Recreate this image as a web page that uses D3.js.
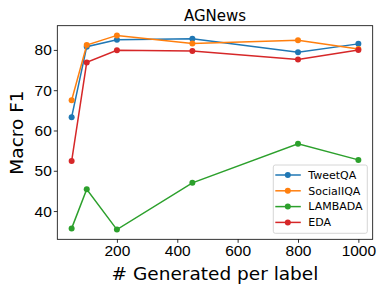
<!DOCTYPE html>
<html>
<head>
<meta charset="utf-8">
<script src="https://cdn.jsdelivr.net/npm/d3@7"></script>
<style>
  body { margin: 0; background: #fff; }
  svg { font-family: "DejaVu Sans", sans-serif; }
</style>
</head>
<body>
<svg id="chart" width="390" height="293"></svg>
<script>
// data
const generated = [50, 100, 200, 450, 800, 1000];
const tweetQA = [63.3, 80.8, 82.5, 82.8, 79.4, 81.5];
const socialIQA = [67.5, 81.2, 83.6, 81.6, 82.4, 80.2];
const lambada = [35.7, 45.4, 35.4, 47.0, 56.7, 52.7];
const eda = [52.4, 76.9, 79.9, 79.7, 77.6, 80.0];
const seriesNames = ['TweetQA', 'SocialIQA', 'LAMBADA', 'EDA'];
const seriesColors = ['#1f77b4', '#ff7f0e', '#2ca02c', '#d62728'];
const xTicks = [200, 400, 600, 800, 1000];
const yTicks = [40, 50, 60, 70, 80];

const series = [tweetQA, socialIQA, lambada, eda];

const margin = { left: 57.3, right: 372.7, top: 25.7, bottom: 239.3 };
const svg = d3.select('#chart');

// matplotlib-style 5% padding on both axes
const xMin = d3.min(generated), xMax = d3.max(generated);
const xPad = (xMax - xMin) * 0.05;
const x = d3.scaleLinear()
  .domain([xMin - xPad, xMax + xPad])
  .range([margin.left, margin.right]);

const allY = series.flat();
const yMin = d3.min(allY), yMax = d3.max(allY);
const yPad = (yMax - yMin) * 0.05;
const y = d3.scaleLinear()
  .domain([yMin - yPad, yMax + yPad])
  .range([margin.bottom, margin.top]);

// axes
const xAxis = svg.append('g')
  .attr('transform', `translate(0,${margin.bottom})`)
  .call(d3.axisBottom(x).tickValues(xTicks).tickSize(3.5).tickPadding(2).tickFormat(d3.format('d')));
xAxis.select('.domain').remove();
xAxis.selectAll('text').attr('font-size', '15.5px').attr('fill', '#000');
xAxis.selectAll('line').attr('stroke', '#000').attr('stroke-width', 0.8);

const yAxis = svg.append('g')
  .attr('transform', `translate(${margin.left},0)`)
  .call(d3.axisLeft(y).tickValues(yTicks).tickSize(3.5).tickPadding(2));
yAxis.select('.domain').remove();
yAxis.selectAll('text').attr('font-size', '15.5px').attr('fill', '#000');
yAxis.selectAll('line').attr('stroke', '#000').attr('stroke-width', 0.8);

// frame
svg.append('rect')
  .attr('x', margin.left)
  .attr('y', margin.top)
  .attr('width', margin.right - margin.left)
  .attr('height', margin.bottom - margin.top)
  .attr('fill', 'none')
  .attr('stroke', '#000')
  .attr('stroke-width', 0.8);

// lines + markers
const line = d3.line()
  .x((d, i) => x(generated[i]))
  .y(d => y(d));

series.forEach((vals, k) => {
  const g = svg.append('g');
  g.append('path')
    .datum(vals)
    .attr('d', line)
    .attr('fill', 'none')
    .attr('stroke', seriesColors[k])
    .attr('stroke-width', 1.5);
  g.selectAll('circle')
    .data(vals)
    .join('circle')
    .attr('cx', (d, i) => x(generated[i]))
    .attr('cy', d => y(d))
    .attr('r', 3)
    .attr('fill', seriesColors[k]);
});

// title and axis labels
svg.append('text')
  .attr('x', (margin.left + margin.right) / 2)
  .attr('y', 20.5)
  .attr('text-anchor', 'middle')
  .attr('font-size', '15px')
  .text('AGNews');

svg.append('text')
  .attr('x', (margin.left + margin.right) / 2)
  .attr('y', 280)
  .attr('text-anchor', 'middle')
  .attr('font-size', '18.5px')
  .text('# Generated per label');

svg.append('text')
  .attr('transform', `translate(23,${(margin.top + margin.bottom) / 2}) rotate(-90)`)
  .attr('text-anchor', 'middle')
  .attr('font-size', '18.5px')
  .text('Macro F1');

// legend
const legend = svg.append('g').attr('transform', 'translate(273.3,165)');
legend.append('rect')
  .attr('width', 94)
  .attr('height', 68.3)
  .attr('rx', 2)
  .attr('fill', '#fff')
  .attr('fill-opacity', 0.8)
  .attr('stroke', '#cccccc')
  .attr('stroke-width', 0.8);

seriesNames.forEach((name, k) => {
  const ly = 10 + k * 15.8;
  legend.append('line')
    .attr('x1', 2).attr('x2', 27.5)
    .attr('y1', ly).attr('y2', ly)
    .attr('stroke', seriesColors[k])
    .attr('stroke-width', 1.5);
  legend.append('circle')
    .attr('cx', 14.5).attr('cy', ly).attr('r', 3)
    .attr('fill', seriesColors[k]);
  legend.append('text')
    .attr('x', 35)
    .attr('y', ly)
    .attr('dy', '0.35em')
    .attr('font-size', '11px')
    .text(name);
});
</script>
</body>
</html>
